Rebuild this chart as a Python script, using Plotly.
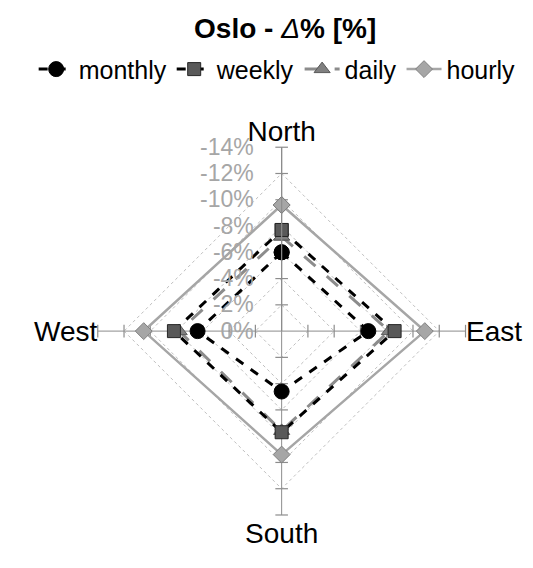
import plotly.graph_objects as go

directions = ["North", "East", "South", "West"]
monthly = [-6.0, -6.6, -4.6, -6.4]
weekly = [-7.7, -8.6, -7.7, -8.2]
daily = [-7.2, -8.2, -7.6, -7.8]
hourly = [-9.6, -10.9, -9.4, -10.5]
tick_vals = [0, -2, -4, -6, -8, -10, -12, -14]
tick_text = ["0%", "-2%", "-4%", "-6%", "-8%", "-10%", "-12%", "-14%"]

def closed(v):
    return [-x for x in v] + [-v[0]]

theta = directions + [directions[0]]

series = [
    ("hourly", hourly, dict(color="#a6a6a6", width=2.5, dash="solid"),
     dict(symbol="diamond", size=13, color="#a6a6a6", line=dict(color="#7f7f7f", width=1))),
    ("daily", daily, dict(color="#8c8c8c", width=3, dash="longdash"),
     dict(symbol="triangle-up", size=14, color="#808080", line=dict(color="#595959", width=1))),
    ("weekly", weekly, dict(color="#000000", width=3, dash="dash"),
     dict(symbol="square", size=13, color="#595959", line=dict(color="#262626", width=1))),
    ("monthly", monthly, dict(color="#000000", width=3, dash="dash"),
     dict(symbol="circle", size=15, color="#000000", line=dict(color="#000000", width=1))),
]

fig = go.Figure()

# tick marks along the four spokes
for d in directions:
    sym = "line-ew" if d in ("North", "South") else "line-ns"
    fig.add_trace(go.Scatterpolar(
        r=[-t for t in tick_vals[1:]], theta=[d] * (len(tick_vals) - 1),
        mode="markers", showlegend=False, hoverinfo="skip",
        marker=dict(symbol=sym, size=9, line=dict(color="#8c8c8c", width=1.2)),
    ))

for name, vals, ln, mk in series:
    fig.add_trace(go.Scatterpolar(
        r=closed(vals), theta=theta, mode="lines+markers", name=name,
        line=ln, marker=mk,
    ))

order = {"monthly": 1, "weekly": 2, "daily": 3, "hourly": 4}
for tr in fig.data:
    if tr.name in order:
        tr.legendrank = order[tr.name]

pad = "\u00a0\u00a0\u00a0"

fig.update_layout(
    width=533, height=568,
    margin=dict(l=0, r=0, t=0, b=0),
    paper_bgcolor="white",
    font=dict(family="Liberation Sans, Arial, sans-serif", color="#000000"),
    title=dict(text="<b>Oslo - </b><i>Δ</i><b>% [%]</b>", x=0.52, xanchor="center",
               y=0.965, yanchor="middle", font=dict(size=28, color="#000000")),
    legend=dict(orientation="h", x=0.505, xanchor="center", y=0.892, yanchor="middle",
                font=dict(size=25, color="#000000"), itemwidth=35,
                traceorder="normal", bgcolor="rgba(0,0,0,0)"),
    polar=dict(
        domain=dict(x=[0.1684, 0.8584], y=[0.1073, 0.755]),
        gridshape="linear",
        bgcolor="white",
        radialaxis=dict(
            range=[0, 14], tickvals=[-t for t in tick_vals],
            ticktext=[t + pad for t in tick_text],
            angle=90, side="counterclockwise", tickangle=90,
            showline=True, linecolor="#8c8c8c", linewidth=1.2,
            ticks="", gridcolor="#bfbfbf", griddash="dot", gridwidth=1,
            tickfont=dict(size=23, color="#a6a6a6"),
        ),
        angularaxis=dict(
            direction="clockwise", rotation=90,
            showline=False, showgrid=True, gridcolor="#8c8c8c", gridwidth=1.2,
            ticks="", tickfont=dict(size=28, color="#000000"),
        ),
    ),
)

fig.write_html("out.html")
